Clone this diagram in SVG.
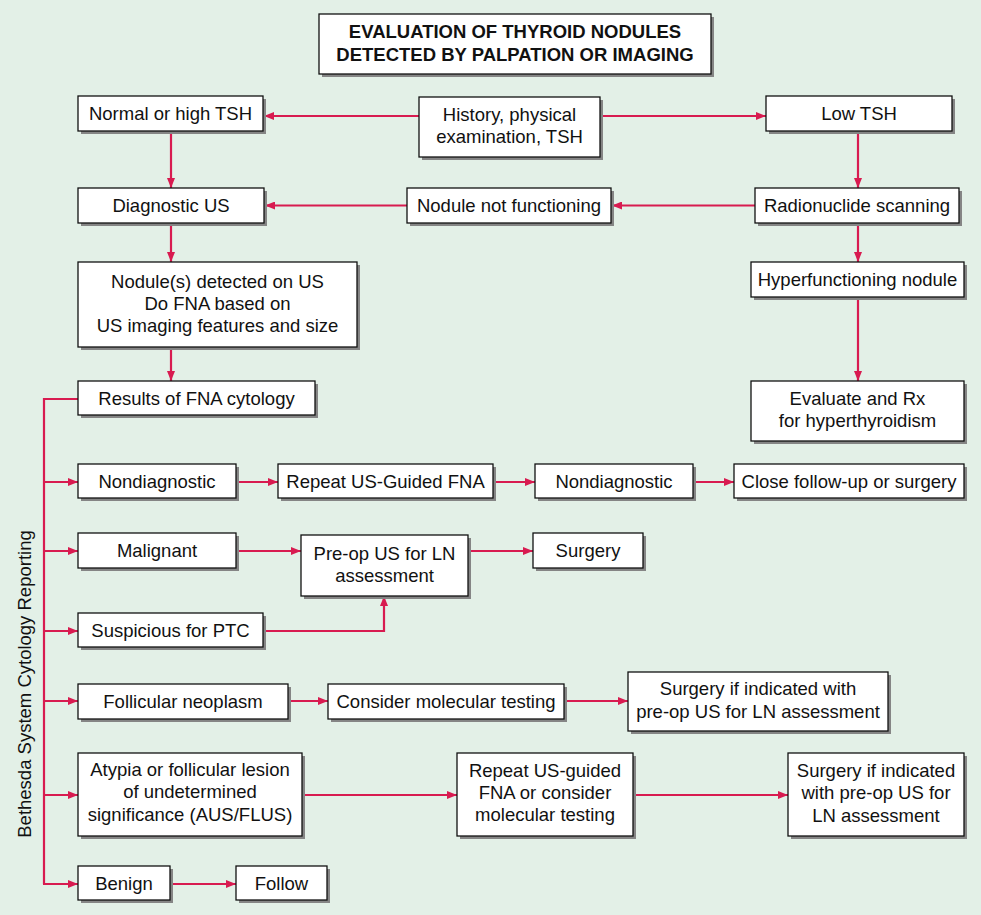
<svg xmlns="http://www.w3.org/2000/svg" width="981" height="915" viewBox="0 0 981 915">
<defs>
<style>
.bx{fill:#fff;stroke:#111;stroke-width:1.3}
.sh{fill:#858585}
.t{font-family:"Liberation Sans",Arial,sans-serif;font-size:18.5px;fill:#111;text-anchor:middle}
.tb{font-weight:bold}
.c{fill:none;stroke:#d81b50;stroke-width:2.2}
</style>
<marker id="ah" markerUnits="userSpaceOnUse" markerWidth="11" markerHeight="8" refX="10" refY="4" orient="auto">
<path d="M0,0 L10,4 L0,8 z" fill="#d81b50"/>
</marker>
</defs>
<rect x="0" y="0" width="981" height="915" fill="#e3f0e7"/>

<g id="connectors">
<path class="c" d="M419,116 H264" marker-end="url(#ah)"/>
<path class="c" d="M600,116 H766" marker-end="url(#ah)"/>
<path class="c" d="M171,131 V188" marker-end="url(#ah)"/>
<path class="c" d="M858,131 V188" marker-end="url(#ah)"/>
<path class="c" d="M755,205.5 H612" marker-end="url(#ah)"/>
<path class="c" d="M407,205.5 H265" marker-end="url(#ah)"/>
<path class="c" d="M171,223 V262" marker-end="url(#ah)"/>
<path class="c" d="M858,223 V262" marker-end="url(#ah)"/>
<path class="c" d="M858,297 V381" marker-end="url(#ah)"/>
<path class="c" d="M171,347 V381" marker-end="url(#ah)"/>
<path class="c" d="M78,399 H44 V884"/>
<path class="c" d="M44,482 H78" marker-end="url(#ah)"/>
<path class="c" d="M44,551 H78" marker-end="url(#ah)"/>
<path class="c" d="M44,631 H78" marker-end="url(#ah)"/>
<path class="c" d="M44,701 H78" marker-end="url(#ah)"/>
<path class="c" d="M44,795 H78" marker-end="url(#ah)"/>
<path class="c" d="M43,884 H78" marker-end="url(#ah)"/>
<path class="c" d="M236,482 H278" marker-end="url(#ah)"/>
<path class="c" d="M493,482 H535" marker-end="url(#ah)"/>
<path class="c" d="M693,482 H734" marker-end="url(#ah)"/>
<path class="c" d="M236,551 H301" marker-end="url(#ah)"/>
<path class="c" d="M468,551 H533" marker-end="url(#ah)"/>
<path class="c" d="M263,631 H384 V596" marker-end="url(#ah)"/>
<path class="c" d="M288,701 H328" marker-end="url(#ah)"/>
<path class="c" d="M564,701 H628" marker-end="url(#ah)"/>
<path class="c" d="M302,795 H457" marker-end="url(#ah)"/>
<path class="c" d="M633,795 H788" marker-end="url(#ah)"/>
<path class="c" d="M170,884 H236" marker-end="url(#ah)"/>
</g>

<g id="title"><rect class="sh" x="322" y="17" width="392" height="60"/><rect class="bx" x="319" y="14" width="392" height="60"/>
<text class="t tb" x="515" y="38">EVALUATION OF THYROID NODULES</text><text class="t tb" x="515" y="61">DETECTED BY PALPATION OR IMAGING</text></g>

<g id="history"><rect class="sh" x="422" y="100" width="181" height="60"/><rect class="bx" x="419" y="97" width="181" height="60"/>
<text class="t" x="509.5" y="121">History, physical</text><text class="t" x="509.5" y="143">examination, TSH</text></g>

<g id="normal"><rect class="sh" x="81" y="99" width="185" height="35"/><rect class="bx" x="78" y="96" width="185" height="35"/>
<text class="t" x="170.5" y="120">Normal or high TSH</text></g>

<g id="lowtsh"><rect class="sh" x="769" y="99" width="186" height="35"/><rect class="bx" x="766" y="96" width="186" height="35"/>
<text class="t" x="859" y="120">Low TSH</text></g>

<g id="diagus"><rect class="sh" x="81" y="191" width="186" height="35"/><rect class="bx" x="78" y="188" width="186" height="35"/>
<text class="t" x="171" y="212">Diagnostic US</text></g>

<g id="notfunc"><rect class="sh" x="410" y="191" width="204" height="35"/><rect class="bx" x="407" y="188" width="204" height="35"/>
<text class="t" x="509" y="212">Nodule not functioning</text></g>

<g id="radio"><rect class="sh" x="758" y="191" width="204" height="35"/><rect class="bx" x="755" y="188" width="204" height="35"/>
<text class="t" x="857" y="212">Radionuclide scanning</text></g>

<g id="hyper"><rect class="sh" x="754" y="265" width="213" height="35"/><rect class="bx" x="751" y="262" width="213" height="35"/>
<text class="t" x="857.5" y="286">Hyperfunctioning nodule</text></g>

<g id="nodule"><rect class="sh" x="81" y="265" width="279" height="85"/><rect class="bx" x="78" y="262" width="279" height="85"/>
<text class="t" x="217.5" y="288">Nodule(s) detected on US</text><text class="t" x="217.5" y="310">Do FNA based on</text><text class="t" x="217.5" y="332">US imaging features and size</text></g>

<g id="results"><rect class="sh" x="81" y="384" width="237" height="34"/><rect class="bx" x="78" y="381" width="237" height="34"/>
<text class="t" x="196.5" y="405">Results of FNA cytology</text></g>

<g id="evaluate"><rect class="sh" x="754" y="384" width="213" height="60"/><rect class="bx" x="751" y="381" width="213" height="60"/>
<text class="t" x="857.5" y="405">Evaluate and Rx</text><text class="t" x="857.5" y="427">for hyperthyroidism</text></g>

<g id="nondiag1"><rect class="sh" x="81" y="467" width="158" height="34"/><rect class="bx" x="78" y="464" width="158" height="34"/>
<text class="t" x="157" y="488">Nondiagnostic</text></g>

<g id="repeat1"><rect class="sh" x="281" y="467" width="215" height="34"/><rect class="bx" x="278" y="464" width="215" height="34"/>
<text class="t" x="385.5" y="488">Repeat US-Guided FNA</text></g>

<g id="nondiag2"><rect class="sh" x="538" y="467" width="158" height="34"/><rect class="bx" x="535" y="464" width="158" height="34"/>
<text class="t" x="614" y="488">Nondiagnostic</text></g>

<g id="close"><rect class="sh" x="737" y="467" width="230" height="34"/><rect class="bx" x="734" y="464" width="230" height="34"/>
<text class="t" x="849" y="488">Close follow-up or surgery</text></g>

<g id="malignant"><rect class="sh" x="81" y="536" width="158" height="35"/><rect class="bx" x="78" y="533" width="158" height="35"/>
<text class="t" x="157" y="557">Malignant</text></g>

<g id="preop"><rect class="sh" x="304" y="538" width="167" height="61"/><rect class="bx" x="301" y="535" width="167" height="61"/>
<text class="t" x="384.5" y="560">Pre-op US for LN</text><text class="t" x="384.5" y="582">assessment</text></g>

<g id="surgery"><rect class="sh" x="536" y="536" width="110" height="35"/><rect class="bx" x="533" y="533" width="110" height="35"/>
<text class="t" x="588" y="557">Surgery</text></g>

<g id="suspicious"><rect class="sh" x="81" y="616" width="185" height="34"/><rect class="bx" x="78" y="613" width="185" height="34"/>
<text class="t" x="170.5" y="637">Suspicious for PTC</text></g>

<g id="follicular"><rect class="sh" x="81" y="687" width="210" height="35"/><rect class="bx" x="78" y="684" width="210" height="35"/>
<text class="t" x="183" y="708">Follicular neoplasm</text></g>

<g id="consider"><rect class="sh" x="331" y="687" width="236" height="35"/><rect class="bx" x="328" y="684" width="236" height="35"/>
<text class="t" x="446" y="708">Consider molecular testing</text></g>

<g id="surgeryif1"><rect class="sh" x="631" y="675" width="260" height="59"/><rect class="bx" x="628" y="672" width="260" height="59"/>
<text class="t" x="758" y="695">Surgery if indicated with</text><text class="t" x="758" y="718">pre-op US for LN assessment</text></g>

<g id="atypia"><rect class="sh" x="81" y="756" width="224" height="83"/><rect class="bx" x="78" y="753" width="224" height="83"/>
<text class="t" x="190" y="776">Atypia or follicular lesion</text><text class="t" x="190" y="798">of undetermined</text><text class="t" x="190" y="821">significance (AUS/FLUS)</text></g>

<g id="repeat2"><rect class="sh" x="460" y="756" width="176" height="83"/><rect class="bx" x="457" y="753" width="176" height="83"/>
<text class="t" x="545" y="777">Repeat US-guided</text><text class="t" x="545" y="799">FNA or consider</text><text class="t" x="545" y="821">molecular testing</text></g>

<g id="surgeryif2"><rect class="sh" x="791" y="756" width="176" height="83"/><rect class="bx" x="788" y="753" width="176" height="83"/>
<text class="t" x="876" y="777">Surgery if indicated</text><text class="t" x="876" y="799">with pre-op US for</text><text class="t" x="876" y="822">LN assessment</text></g>

<g id="benign"><rect class="sh" x="81" y="869" width="92" height="34"/><rect class="bx" x="78" y="866" width="92" height="34"/>
<text class="t" x="124" y="890">Benign</text></g>

<g id="follow"><rect class="sh" x="239" y="869" width="91" height="34"/><rect class="bx" x="236" y="866" width="91" height="34"/>
<text class="t" x="281.5" y="890">Follow</text></g>

<g id="bethesda-label"><text class="t" x="31" y="684" transform="rotate(-90 31 684)">Bethesda System Cytology Reporting</text></g>
</svg>
